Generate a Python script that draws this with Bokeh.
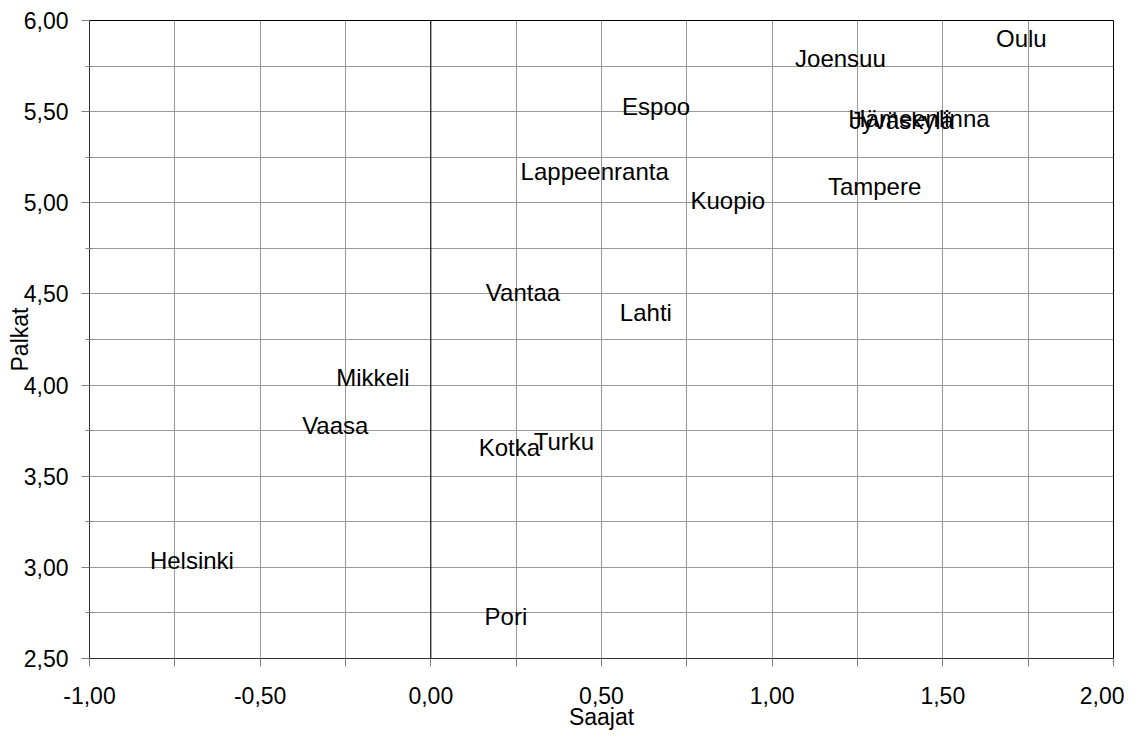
from bokeh.plotting import figure
from bokeh.models import Range1d, FixedTicker, CustomJSTickFormatter, Span, ColumnDataSource
from bokeh.core.properties import value
from bokeh.embed import file_html
from bokeh.resources import INLINE

cities = ["Helsinki", "Espoo", "Vantaa", "Turku", "Tampere", "Oulu", "Jyväskylä",
          "Hämeenlinna", "Lahti", "Kuopio", "Joensuu", "Lappeenranta", "Kotka",
          "Mikkeli", "Vaasa", "Pori"]
saajat = [-0.70, 0.66, 0.27, 0.39, 1.30, 1.73, 1.38, 1.43, 0.63, 0.87, 1.20, 0.48,
          0.23, -0.17, -0.28, 0.22]
palkat = [3.04, 5.53, 4.51, 3.69, 5.09, 5.90, 5.45, 5.46, 4.40, 5.01, 5.79, 5.17,
          3.66, 4.04, 3.78, 2.73]

x_major = [-1.0, -0.5, 0.0, 0.5, 1.0, 1.5, 2.0]
x_minor = [-0.75, -0.25, 0.25, 0.75, 1.25, 1.75]
y_major = [2.5, 3.0, 3.5, 4.0, 4.5, 5.0, 5.5, 6.0]
y_minor = [2.75, 3.25, 3.75, 4.25, 4.75, 5.25, 5.75]

FONT = "Liberation Sans"

p = figure(width=1124, height=732, output_backend="svg", toolbar_location=None,
           x_range=Range1d(-1, 2), y_range=Range1d(2.5, 6),
           min_border_left=89, min_border_right=11, min_border_top=20, min_border_bottom=60)
p.background_fill_color = "white"
p.border_fill_color = "white"
p.outline_line_color = "black"
p.outline_line_width = 1

fmt = CustomJSTickFormatter(code="return tick.toFixed(2).replace('.', ',');")

p.xaxis.ticker = FixedTicker(ticks=x_major, minor_ticks=x_minor)
p.yaxis.ticker = FixedTicker(ticks=y_major, minor_ticks=y_minor)
for ax in (p.xaxis, p.yaxis):
    ax.formatter = fmt
    ax.major_label_text_font = FONT
    ax.major_label_text_font_size = "23px"
    ax.major_label_text_color = "black"
    ax.axis_label_text_font = FONT
    ax.axis_label_text_font_size = "23px"
    ax.axis_label_text_font_style = "normal"
    ax.axis_label_text_color = "black"
    ax.axis_line_color = "#333333"
    ax.major_tick_line_color = "#808080"
    ax.minor_tick_line_color = "#808080"
    ax.major_tick_in = 0
    ax.major_tick_out = 8

p.xaxis.minor_tick_in = 0
p.xaxis.minor_tick_out = 8
p.yaxis.minor_tick_in = 4
p.yaxis.minor_tick_out = 4

p.xaxis.axis_label = "Saajat"
p.yaxis.axis_label = "Palkat"
p.xaxis.major_label_standoff = 20
p.yaxis.major_label_standoff = 13
p.xaxis.axis_label_standoff = -3
p.yaxis.axis_label_standoff = -12

for g in (p.xgrid, p.ygrid):
    g.grid_line_color = "#999999"
    g.grid_line_width = 1
    g.minor_grid_line_color = "#999999"
    g.minor_grid_line_width = 1

p.add_layout(Span(location=0, dimension="height", line_color="black", line_width=1))

src = ColumnDataSource(dict(x=saajat, y=palkat, t=cities))
p.text(x="x", y="y", text="t", source=src, text_align="center", text_baseline="middle",
       text_font=value(FONT), text_font_size="24px", text_color="black")

open("out.html", "w").write(file_html(p, INLINE))
